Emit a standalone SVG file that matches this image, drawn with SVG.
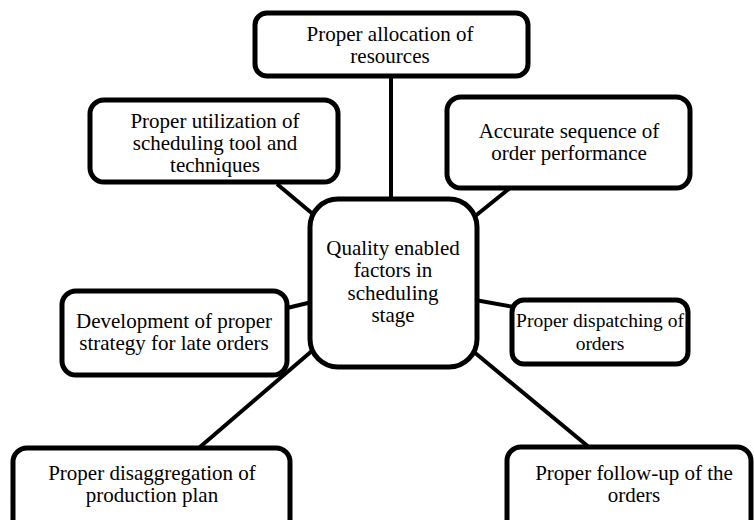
<svg xmlns="http://www.w3.org/2000/svg" width="754" height="520" viewBox="0 0 754 520">
<style>
.box{fill:#fff;stroke:#000;stroke-width:5}
.ln{stroke:#000;stroke-width:4;fill:none}
text{font-family:"Liberation Serif","Times New Roman",serif;font-size:21px;fill:#000;text-anchor:middle}
.sm{font-size:19.5px}
</style>
<rect width="754" height="520" fill="#fff"/>
<g id="connectors">
<line class="ln" x1="391" y1="76" x2="391" y2="200"/>
<line class="ln" x1="277" y1="184" x2="314" y2="215"/>
<line class="ln" x1="510" y1="188" x2="474" y2="217"/>
<line class="ln" x1="287" y1="308" x2="312" y2="302"/>
<line class="ln" x1="475" y1="300" x2="514" y2="307"/>
<line class="ln" x1="200" y1="447" x2="313" y2="350"/>
<line class="ln" x1="474" y1="352" x2="590" y2="448"/>
</g>
<g id="center">
<rect class="box" x="310" y="199" width="167" height="168" rx="28"/>
<text x="393" y="255">Quality enabled</text>
<text x="393" y="277">factors in</text>
<text x="393" y="300">scheduling</text>
<text x="393" y="322">stage</text>
</g>
<g id="allocation">
<rect class="box" x="255" y="13" width="273" height="63" rx="12"/>
<text x="390" y="41">Proper allocation of</text>
<text x="390" y="63">resources</text>
</g>
<g id="utilization">
<rect class="box" x="90" y="100" width="248" height="82" rx="14"/>
<text x="215" y="128">Proper utilization of</text>
<text x="215" y="150">scheduling tool and</text>
<text x="215" y="172">techniques</text>
</g>
<g id="sequence">
<rect class="box" x="447" y="97" width="243" height="91" rx="14"/>
<text x="569" y="138">Accurate sequence of</text>
<text x="569" y="160">order performance</text>
</g>
<g id="strategy">
<rect class="box" x="62" y="291" width="225" height="84" rx="14"/>
<text x="174" y="328">Development of proper</text>
<text x="174" y="350">strategy for late orders</text>
</g>
<g id="dispatching">
<rect class="box" x="512" y="300" width="176" height="64" rx="12"/>
<text class="sm" x="600" y="327">Proper dispatching of</text>
<text class="sm" x="600" y="350">orders</text>
</g>
<g id="disaggregation">
<rect class="box" x="13" y="448" width="277" height="90" rx="14"/>
<text x="152" y="480">Proper disaggregation of</text>
<text x="152" y="502">production plan</text>
</g>
<g id="followup">
<rect class="box" x="507" y="447" width="244" height="90" rx="14"/>
<text x="634" y="480">Proper follow-up of the</text>
<text x="634" y="502">orders</text>
</g>
</svg>
